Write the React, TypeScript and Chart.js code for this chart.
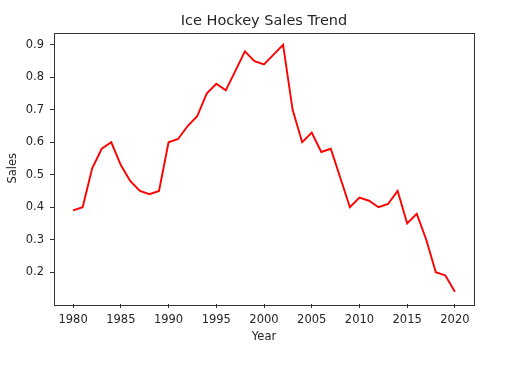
import React, { useEffect, useRef } from "react";
import { Chart, registerables } from "chart.js";

Chart.register(...registerables);

const years: number[] = [
  1980, 1981, 1982, 1983, 1984, 1985, 1986, 1987, 1988, 1989,
  1990, 1991, 1992, 1993, 1994, 1995, 1996, 1997, 1998, 1999,
  2000, 2001, 2002, 2003, 2004, 2005, 2006, 2007, 2008, 2009,
  2010, 2011, 2012, 2013, 2014, 2015, 2016, 2017, 2018, 2019, 2020,
];
const sales: number[] = [
  0.39, 0.40, 0.52, 0.58, 0.60, 0.53, 0.48, 0.45, 0.44, 0.45,
  0.60, 0.61, 0.65, 0.68, 0.75, 0.78, 0.76, 0.82, 0.88, 0.85,
  0.84, 0.87, 0.90, 0.70, 0.60, 0.63, 0.57, 0.58, 0.49, 0.40,
  0.43, 0.42, 0.40, 0.41, 0.45, 0.35, 0.38, 0.30, 0.20, 0.19, 0.14,
];
const xTicks: number[] = [1980, 1985, 1990, 1995, 2000, 2005, 2010, 2015, 2020];
const yTicks: number[] = [0.2, 0.3, 0.4, 0.5, 0.6, 0.7, 0.8, 0.9];

const FONT = "'DejaVu Sans', sans-serif";
const TEXT = "#262626";

const frame = {
  id: "frame",
  afterDatasetsDraw(chart: any) {
    const { ctx, chartArea } = chart;
    ctx.save();
    ctx.strokeStyle = "#333";
    ctx.lineWidth = 1;
    ctx.strokeRect(
      Math.round(chartArea.left) + 0.5,
      Math.round(chartArea.top) + 0.5,
      Math.round(chartArea.right - chartArea.left),
      Math.round(chartArea.bottom - chartArea.top)
    );
    ctx.restore();
  },
};

export default function App() {
  const ref = useRef<HTMLCanvasElement | null>(null);
  useEffect(() => {
    if (!ref.current) return;
    const chart = new Chart(ref.current, {
      type: "line",
      data: {
        datasets: [
          {
            data: years.map((y, i) => ({ x: y, y: sales[i] })),
            borderColor: "#ff0000",
            borderWidth: 1.9,
            pointRadius: 0,
            tension: 0,
            fill: false,
          },
        ],
      },
      options: {
        animation: false,
        responsive: true,
        maintainAspectRatio: false,
        layout: { padding: { left: 0, right: 43, top: 0, bottom: 0 } },
        plugins: {
          legend: { display: false },
          tooltip: { enabled: false },
          title: {
            display: true,
            fullSize: false,
            text: "Ice Hockey Sales Trend",
            color: TEXT,
            font: { family: FONT, size: 14.5, weight: "normal" },
            padding: { top: 12.3, bottom: 2.8 },
          },
        },
        scales: {
          x: {
            type: "linear",
            min: 1978,
            max: 2022,
            afterBuildTicks: (s: any) => {
              s.ticks = xTicks.map((v) => ({ value: v }));
            },
            afterFit: (s: any) => {
              s.height = 63;
            },
            border: { display: false },
            grid: {
              drawOnChartArea: false,
              drawTicks: true,
              tickLength: 4,
              color: "#333",
            },
            ticks: {
              color: TEXT,
              font: { family: FONT, size: 11.5 },
              padding: 5,
              maxRotation: 0,
              autoSkip: false,
              callback: (v: any) => String(v),
            },
            title: {
              display: true,
              text: "Year",
              color: TEXT,
              font: { family: FONT, size: 11.5 },
              padding: { top: 0, bottom: 23 },
            },
          },
          y: {
            type: "linear",
            min: 0.102,
            max: 0.938,
            afterBuildTicks: (s: any) => {
              s.ticks = yTicks.map((v) => ({ value: v }));
            },
            afterFit: (s: any) => {
              s.width = 54;
            },
            border: { display: false },
            grid: {
              drawOnChartArea: false,
              drawTicks: true,
              tickLength: 4,
              color: "#333",
            },
            ticks: {
              color: TEXT,
              font: { family: FONT, size: 11.5 },
              padding: 6,
              autoSkip: false,
              callback: (v: any) => Number(v).toFixed(1),
            },
            title: {
              display: true,
              text: "Sales",
              color: TEXT,
              font: { family: FONT, size: 11.5 },
              padding: { top: 6, bottom: 0 },
            },
          },
        },
      },
      plugins: [frame],
    } as any);
    return () => chart.destroy();
  }, []);
  return (
    <div
      style={{
        position: "absolute",
        left: 0,
        top: 0,
        width: 517,
        height: 367,
        background: "#fff",
      }}
    >
      <canvas ref={ref} />
    </div>
  );
}
